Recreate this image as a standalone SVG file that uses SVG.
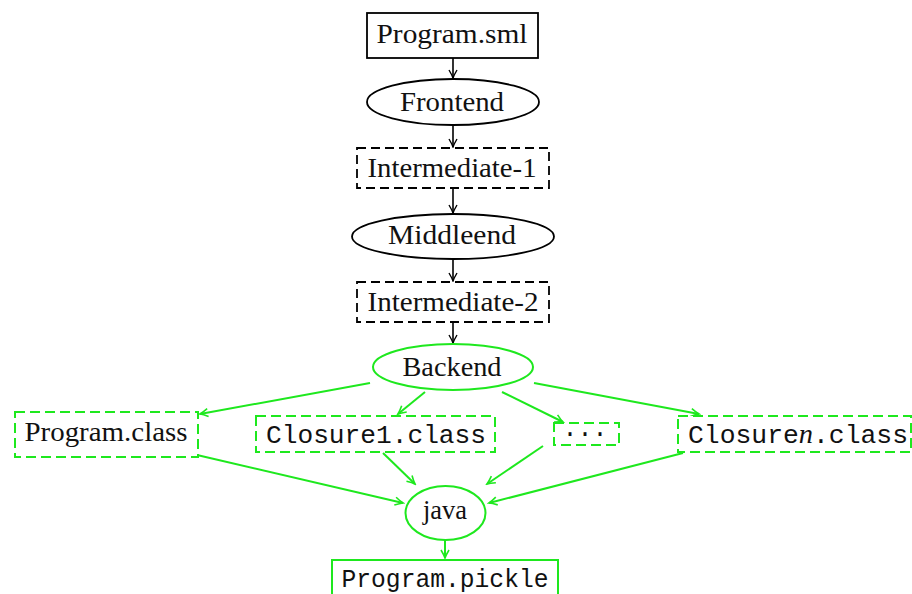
<svg xmlns="http://www.w3.org/2000/svg" width="912" height="594" viewBox="0 0 912 594">
<defs>
<marker id="ab" markerUnits="userSpaceOnUse" markerWidth="12" markerHeight="12" viewBox="-10 -6 12 12" refX="0" refY="0" orient="auto">
<path d="M-8,-4 Q-3,-1 0,0 Q-3,1 -8,4" fill="none" stroke="#000" stroke-width="1.4"/>
</marker>
<marker id="ag" markerUnits="userSpaceOnUse" markerWidth="12" markerHeight="12" viewBox="-10 -6 12 12" refX="0" refY="0" orient="auto">
<path d="M-8,-4 Q-3,-1 0,0 Q-3,1 -8,4" fill="none" stroke="#1ee81e" stroke-width="1.6"/>
</marker>
</defs>
<style>
.bk{fill:#fff;stroke:#000;stroke-width:1.8}
.bd{fill:#fff;stroke:#000;stroke-width:1.8;stroke-dasharray:9 5}
.gr{fill:#fff;stroke:#1ee81e;stroke-width:2}
.gd{fill:#fff;stroke:#1ee81e;stroke-width:2;stroke-dasharray:10 5}
.t{font-family:"Liberation Serif",serif;font-size:27px;fill:#111;text-anchor:middle}
.m{font-family:"Liberation Mono",monospace;font-size:25px;fill:#111;text-anchor:middle}
.lb{stroke:#000;stroke-width:1.6;fill:none;marker-end:url(#ab)}
.lg{stroke:#1ee81e;stroke-width:2;fill:none;marker-end:url(#ag)}
</style>
<g id="connectors">
<line class="lb" x1="453" y1="58" x2="453" y2="78"/>
<line class="lb" x1="453" y1="125" x2="453" y2="147"/>
<line class="lb" x1="453" y1="188" x2="453" y2="213"/>
<line class="lb" x1="453" y1="259" x2="453" y2="281"/>
<line class="lb" x1="453" y1="322" x2="453" y2="343"/>
<line class="lg" x1="370" y1="383" x2="200" y2="414"/>
<line class="lg" x1="425" y1="392" x2="398" y2="414"/>
<line class="lg" x1="502" y1="392" x2="563" y2="422"/>
<line class="lg" x1="534" y1="383" x2="699" y2="414"/>
<line class="lg" x1="197" y1="455" x2="403" y2="503"/>
<line class="lg" x1="383" y1="453" x2="415" y2="484"/>
<line class="lg" x1="543" y1="446" x2="487" y2="484"/>
<line class="lg" x1="683" y1="453" x2="489" y2="503"/>
<line class="lg" x1="445" y1="540" x2="445" y2="558"/>
</g>
<g id="program-sml">
<rect class="bk" x="367" y="13" width="171" height="45"/>
<text class="t" x="452" y="43" textLength="151" lengthAdjust="spacingAndGlyphs">Program.sml</text>
</g>
<g id="frontend">
<ellipse class="bk" cx="453" cy="102" rx="86" ry="23"/>
<text class="t" x="452" y="111" textLength="104" lengthAdjust="spacingAndGlyphs">Frontend</text>
</g>
<g id="intermediate-1">
<rect class="bd" x="357" y="148" width="192" height="40"/>
<text class="t" x="452" y="177" textLength="169" lengthAdjust="spacingAndGlyphs">Intermediate-1</text>
</g>
<g id="middleend">
<ellipse class="bk" cx="453" cy="236.5" rx="101" ry="22.5"/>
<text class="t" x="452" y="244" textLength="128" lengthAdjust="spacingAndGlyphs">Middleend</text>
</g>
<g id="intermediate-2">
<rect class="bd" x="357" y="282" width="192" height="40"/>
<text class="t" x="453" y="311" textLength="171" lengthAdjust="spacingAndGlyphs">Intermediate-2</text>
</g>
<g id="backend">
<ellipse class="gr" cx="453" cy="367" rx="80" ry="23"/>
<text class="t" x="452" y="376" textLength="99" lengthAdjust="spacingAndGlyphs">Backend</text>
</g>
<g id="program-class">
<rect class="gd" x="15" y="412" width="183" height="45"/>
<text class="t" x="106" y="441" textLength="163" lengthAdjust="spacingAndGlyphs">Program.class</text>
</g>
<g id="closure1-class">
<rect class="gd" x="256" y="416" width="239" height="36"/>
<text class="m" x="376" y="443" textLength="220" lengthAdjust="spacingAndGlyphs">Closure1.class</text>
</g>
<g id="dots">
<rect class="gd" x="554" y="423" width="65" height="22"/>
<text class="m" x="585" y="441" font-size="33">···</text>
</g>
<g id="closuren-class">
<rect class="gd" x="678" y="416" width="233" height="36"/>
<text class="m" x="798" y="443" textLength="220" lengthAdjust="spacingAndGlyphs">Closure<tspan font-family="'Liberation Serif',serif" font-style="italic" font-size="27">n</tspan>.class</text>
</g>
<g id="java">
<ellipse class="gr" cx="445.5" cy="513" rx="40" ry="27"/>
<text class="t" x="445" y="519" textLength="44" lengthAdjust="spacingAndGlyphs">java</text>
</g>
<g id="program-pickle">
<rect class="gr" x="332" y="560" width="226" height="50"/>
<text class="m" x="445" y="587" textLength="207" lengthAdjust="spacingAndGlyphs">Program.pickle</text>
</g>
</svg>
